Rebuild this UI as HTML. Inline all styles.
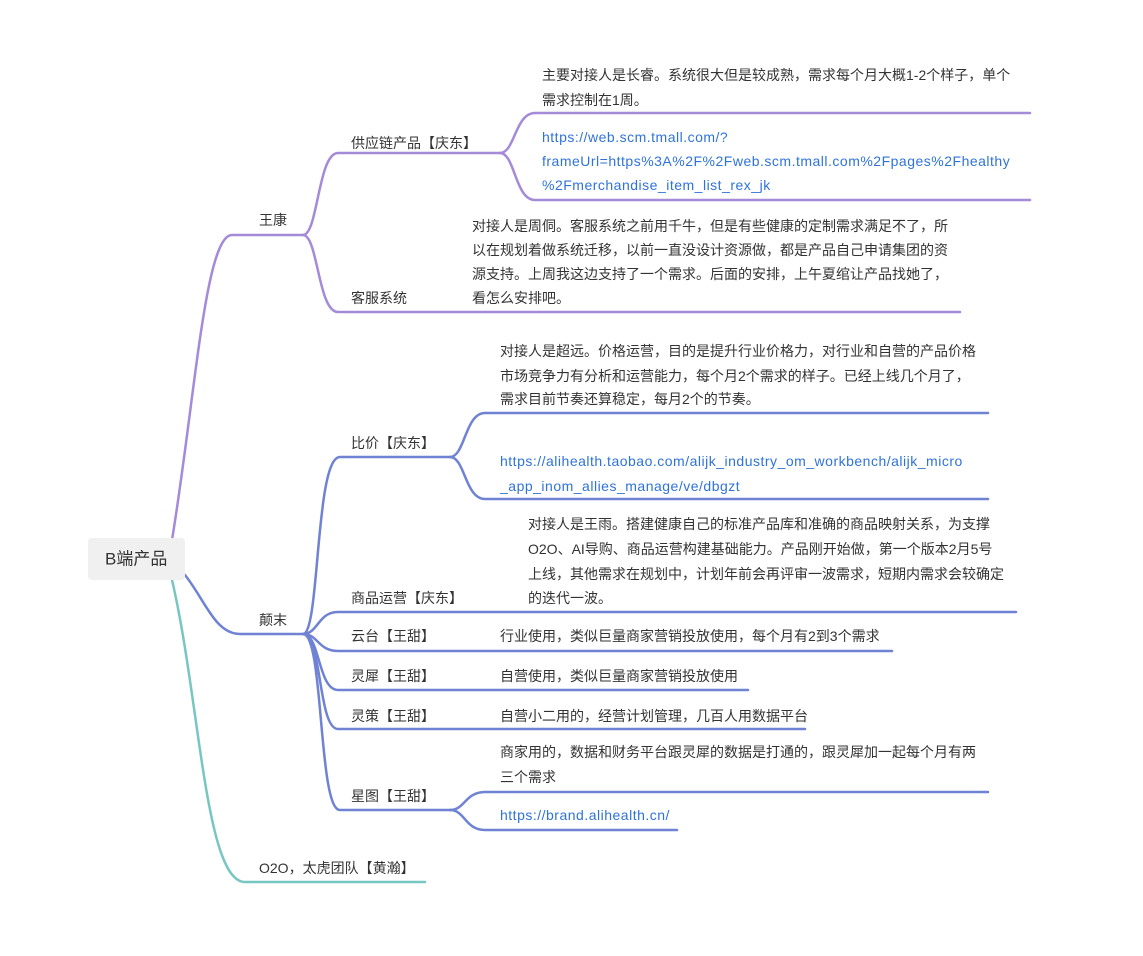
<!DOCTYPE html>
<html><head><meta charset="utf-8"><style>
html,body{margin:0;padding:0;background:#fff;}
svg{display:block;}
text{font-family:"Liberation Sans","Noto Sans CJK SC",sans-serif;font-size:14px;fill:#333;dominant-baseline:central;}
.l{fill:#2f73d8;letter-spacing:0.5px;}
.p{stroke:#a48ad8;fill:none;stroke-width:2.5;stroke-linecap:round;}
.b{stroke:#6f82d4;fill:none;stroke-width:2.5;stroke-linecap:round;}
.t{stroke:#77c6c2;fill:none;stroke-width:2.5;stroke-linecap:round;}
</style></head><body>
<svg width="1143" height="956" viewBox="0 0 1143 956">
<path class="p" d="M172,540 C195,400 205,235 232,235 L303,235"/>
<path class="b" d="M185,575 C205,600 215,634 240,634 L303,634"/>
<path class="t" d="M172,580 C200,700 205,882 245,882 L425,882"/>
<rect x="88" y="538" width="97" height="42" rx="4" fill="#f0f0f0"/>
<text x="105" y="559" style="font-size:17px">B端产品</text>

<text x="259" y="220">王康</text>
<path class="p" d="M303,235 C318,235 318,153 338,153 L500,153"/>
<path class="p" d="M303,235 C318,235 318,312 338,312 L960,312"/>
<text x="351" y="143">供应链产品【庆东】</text>
<text x="351" y="298">客服系统</text>
<path class="p" d="M500,153 C515,153 515,113 535,113 L1030,113"/>
<path class="p" d="M500,153 C515,153 515,200 535,200 L1030,200"/>
<text x="542" y="75">主要对接人是长睿。系统很大但是较成熟，需求每个月大概1-2个样子，单个</text>
<text x="542" y="100">需求控制在1周。</text>
<text class="l" x="542" y="137">https://web.scm.tmall.com/?</text>
<text class="l" x="542" y="161">frameUrl=https%3A%2F%2Fweb.scm.tmall.com%2Fpages%2Fhealthy</text>
<text class="l" x="542" y="185">%2Fmerchandise_item_list_rex_jk</text>
<text x="472" y="226">对接人是周侗。客服系统之前用千牛，但是有些健康的定制需求满足不了，所</text>
<text x="472" y="250">以在规划着做系统迁移，以前一直没设计资源做，都是产品自己申请集团的资</text>
<text x="472" y="274">源支持。上周我这边支持了一个需求。后面的安排，上午夏绾让产品找她了，</text>
<text x="472" y="298">看怎么安排吧。</text>

<text x="259" y="620">颠末</text>
<path class="b" d="M303,634 C320,634 315,457 340,457 L450,457"/>
<path class="b" d="M303,634 C318,634 318,612 338,612 L1016,612"/>
<path class="b" d="M303,634 C318,634 318,651 338,651 L892,651"/>
<path class="b" d="M303,634 C320,634 318,690 338,690 L748,690"/>
<path class="b" d="M303,634 C322,634 318,729 338,729 L805,729"/>
<path class="b" d="M303,634 C324,634 318,810 340,810 L450,810"/>
<text x="351" y="443">比价【庆东】</text>
<text x="351" y="598">商品运营【庆东】</text>
<text x="351" y="636">云台【王甜】</text>
<text x="351" y="676">灵犀【王甜】</text>
<text x="351" y="716">灵策【王甜】</text>
<text x="351" y="796">星图【王甜】</text>

<path class="b" d="M450,457 C465,457 465,413 485,413 L988,413"/>
<path class="b" d="M450,457 C465,457 465,499 485,499 L988,499"/>
<text x="500" y="351">对接人是超远。价格运营，目的是提升行业价格力，对行业和自营的产品价格</text>
<text x="500" y="376">市场竞争力有分析和运营能力，每个月2个需求的样子。已经上线几个月了，</text>
<text x="500" y="399">需求目前节奏还算稳定，每月2个的节奏。</text>
<text class="l" x="500" y="461">https://alihealth.taobao.com/alijk_industry_om_workbench/alijk_micro</text>
<text class="l" x="500" y="486">_app_inom_allies_manage/ve/dbgzt</text>

<text x="528" y="524">对接人是王雨。搭建健康自己的标准产品库和准确的商品映射关系，为支撑</text>
<text x="528" y="549">O2O、AI导购、商品运营构建基础能力。产品刚开始做，第一个版本2月5号</text>
<text x="528" y="574">上线，其他需求在规划中，计划年前会再评审一波需求，短期内需求会较确定</text>
<text x="528" y="598">的迭代一波。</text>

<text x="500" y="636">行业使用，类似巨量商家营销投放使用，每个月有2到3个需求</text>
<text x="500" y="676">自营使用，类似巨量商家营销投放使用</text>
<text x="500" y="716">自营小二用的，经营计划管理，几百人用数据平台</text>

<path class="b" d="M450,810 C465,810 465,792 485,792 L988,792"/>
<path class="b" d="M450,810 C465,810 465,830 485,830 L677,830"/>
<text x="500" y="752">商家用的，数据和财务平台跟灵犀的数据是打通的，跟灵犀加一起每个月有两</text>
<text x="500" y="777">三个需求</text>
<text class="l" x="500" y="815">https://brand.alihealth.cn/</text>

<text x="259" y="868">O2O，太虎团队【黄瀚】</text>
</svg>
</body></html>
